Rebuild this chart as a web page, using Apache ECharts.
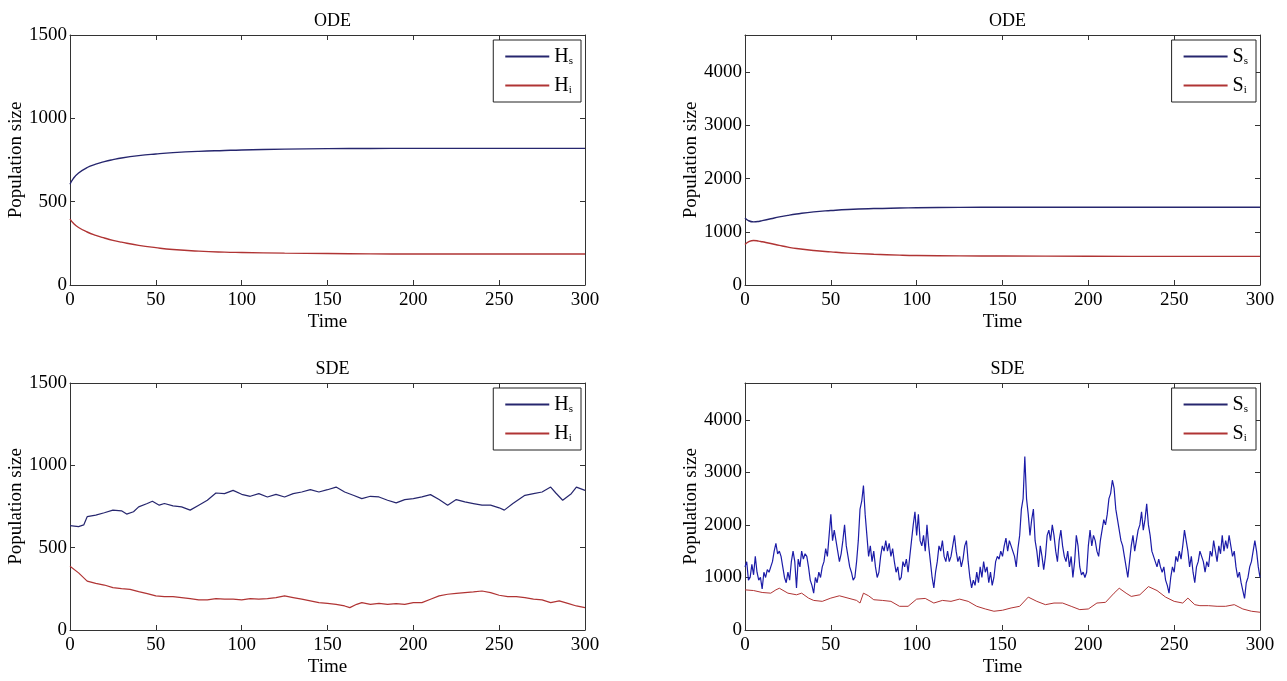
<!DOCTYPE html>
<html>
<head>
<meta charset="utf-8">
<script src="https://cdn.jsdelivr.net/npm/echarts@6/dist/echarts.min.js"></script>
<style>
html,body{margin:0;padding:0;background:#fff;}
#c{width:1287px;height:681px;}
</style>
</head>
<body>
<div id="c"></div>
<script>
// ---------- DATA ----------
const xTicks = [0, 50, 100, 150, 200, 250, 300];
const panelTitles = ['ODE', 'ODE', 'SDE', 'SDE'];

// ODE, host populations
const tOdeH = [0, 2, 5, 10, 15, 20, 25, 30, 40, 50, 60, 75, 90, 100, 125, 150, 175, 200, 250, 300];
const hsOde = [604, 640, 672, 705, 725, 740, 752, 762, 776, 786, 794, 802, 807, 810, 815, 818, 819, 820, 820, 820];
const hiOde = [396, 370, 345, 318, 298, 282, 268, 257, 238, 224, 213, 203, 197, 195, 191, 189, 187, 186, 186, 186];

// ODE, second population
const tOdeS = [0, 2, 5, 8, 10, 15, 20, 25, 30, 40, 50, 60, 75, 90, 100, 125, 150, 200, 250, 300];
const ssOde = [1262, 1210, 1187, 1195, 1210, 1245, 1280, 1310, 1335, 1375, 1400, 1420, 1437, 1447, 1452, 1460, 1462, 1463, 1463, 1463];
const siOde = [762, 810, 837, 825, 812, 780, 745, 712, 685, 648, 622, 600, 578, 562, 555, 548, 545, 540, 538, 538];

// SDE, host populations
const tSdeHs = [0, 5, 8, 10, 15, 20, 25, 30, 33, 37, 40, 45, 48, 52, 55, 60, 65, 70, 75, 80, 85, 90, 95, 100, 105, 110, 115, 120, 125, 130, 135, 140, 145, 150, 155, 160, 165, 170, 175, 180, 185, 190, 195, 200, 205, 210, 215, 220, 225, 230, 235, 240, 245, 250, 253, 258, 265, 270, 275, 280, 283, 287, 292, 295, 300];
const hsSde = [634, 628, 638, 688, 698, 712, 728, 724, 704, 718, 748, 768, 782, 758, 768, 754, 748, 728, 758, 788, 832, 828, 848, 824, 812, 828, 808, 824, 808, 828, 838, 852, 838, 852, 868, 838, 818, 798, 812, 808, 788, 772, 792, 798, 808, 822, 792, 758, 792, 778, 768, 758, 758, 742, 728, 768, 818, 828, 838, 868, 832, 788, 828, 868, 848];
const tSdeHi = [0, 5, 10, 15, 20, 25, 30, 35, 40, 45, 50, 55, 60, 65, 70, 75, 80, 85, 90, 95, 100, 105, 110, 115, 120, 125, 130, 135, 140, 145, 150, 155, 160, 163, 167, 170, 175, 180, 185, 190, 195, 200, 205, 210, 215, 220, 225, 230, 235, 240, 245, 250, 255, 260, 265, 270, 275, 280, 285, 290, 295, 300];
const hiSde = [387, 347, 297, 283, 273, 257, 251, 247, 233, 221, 207, 203, 203, 197, 191, 183, 183, 191, 187, 187, 183, 191, 187, 191, 197, 207, 197, 187, 177, 166, 162, 156, 146, 136, 156, 166, 156, 162, 156, 160, 156, 166, 166, 187, 207, 217, 223, 227, 231, 237, 227, 211, 203, 203, 197, 187, 183, 166, 177, 162, 146, 136];

// SDE, second population (one reading per time unit, t = 0..300)
const ssSde = [1200, 1300, 950, 1000, 1250, 1050, 1400, 1100, 950, 1000, 780, 1100, 1000, 1150, 1100, 1200, 1300, 1500, 1650, 1450,
  1500, 1400, 1200, 1000, 900, 1100, 950, 1300, 1500, 1300, 800, 1350, 1200, 1500, 1350, 1450, 1400, 1200, 950, 850,
  700, 1000, 900, 1100, 1000, 1200, 1300, 1550, 1400, 1800, 2200, 1700, 1900, 1700, 1500, 1300, 1450, 1700, 2000, 1600,
  1400, 1200, 1100, 950, 1000, 1300, 1700, 2300, 2450, 2750, 2200, 1800, 1400, 1600, 1300, 1500, 1200, 1000, 1100, 1400,
  1600, 1500, 1700, 1500, 1650, 1400, 1550, 1300, 1100, 1200, 950, 1000, 1300, 1200, 1350, 1100, 1400, 1700, 2000, 2250,
  1800, 2200, 1700, 1600, 1800, 1500, 2000, 1600, 1300, 1000, 800, 1100, 1300, 1600, 1500, 1700, 1400, 1300, 1500, 1300,
  1400, 1600, 1800, 1500, 1300, 1400, 1200, 1350, 1600, 1700, 1300, 1000, 800, 950, 850, 1100, 900, 1200, 1000, 1300,
  1100, 1200, 900, 1100, 850, 1000, 1300, 1400, 1350, 1500, 1400, 1600, 1750, 1500, 1700, 1600, 1500, 1400, 1200, 1550,
  1800, 2300, 2500, 3300, 2500, 2200, 1800, 2100, 2300, 1700, 1500, 1200, 1600, 1400, 1150, 1400, 1800, 1900, 1700, 2000,
  1800, 1500, 1300, 1700, 1900, 1600, 1400, 1300, 1500, 1200, 1400, 1000, 1300, 1800, 1600, 1200, 1050, 1100, 1000, 1100,
  1600, 1900, 1600, 1800, 1700, 1500, 1400, 1700, 1900, 2100, 2000, 2200, 2500, 2600, 2850, 2700, 2300, 2100, 1900, 1700,
  1600, 1400, 1200, 1000, 1300, 1600, 1800, 1500, 1700, 1900, 2000, 2250, 1900, 2100, 2400, 2000, 1800, 1500, 1400, 1300,
  1200, 1350, 1200, 1100, 1200, 950, 850, 700, 1000, 1200, 1100, 1400, 1300, 1500, 1350, 1600, 1900, 1700, 1500, 1200,
  1400, 1100, 900, 1200, 1300, 1500, 1400, 1300, 1100, 1300, 1200, 1500, 1400, 1700, 1500, 1300, 1600, 1450, 1800, 1500,
  1700, 1550, 1800, 1600, 1400, 1500, 1200, 1000, 1100, 900, 750, 600, 900, 1000, 1200, 1300, 1500, 1700, 1500, 1200, 1000];
const tSdeSi = [0, 5, 10, 15, 18, 20, 25, 30, 33, 37, 40, 45, 50, 55, 60, 65, 67, 69, 72, 75, 80, 85, 90, 95, 100, 105, 110, 115, 120, 125, 130, 135, 140, 145, 150, 155, 160, 165, 170, 175, 180, 185, 190, 195, 200, 205, 210, 215, 218, 222, 225, 230, 235, 240, 245, 250, 255, 258, 262, 265, 270, 275, 280, 285, 290, 295, 300];
const siSde = [764, 751, 714, 701, 764, 795, 701, 670, 701, 607, 563, 545, 607, 651, 607, 563, 513, 701, 651, 576, 563, 545, 451, 451, 588, 601, 513, 563, 545, 588, 545, 451, 400, 357, 376, 419, 451, 626, 545, 482, 513, 513, 451, 388, 400, 513, 526, 701, 795, 701, 639, 670, 826, 751, 626, 545, 513, 607, 482, 463, 463, 451, 451, 482, 400, 357, 338];

// ---------- CHART ----------
const FONT = 'Liberation Serif';
const NAVY = '#26266e';
const RED = '#b03434';
const BLUE = '#1c1ca8';

const grids = [
  {left: 70, top: 35, width: 515, height: 250},
  {left: 745, top: 35, width: 515, height: 250},
  {left: 70, top: 383, width: 515, height: 247},
  {left: 745, top: 383, width: 515, height: 247}
];
const yMax = [1500, 4700, 1500, 4700];
const yInt = [500, 1000, 500, 1000];

const pairs = (ts, vs) => ts.map((t, i) => [t, vs[i]]);
const tUnit = ssSde.map((_, i) => i);

const AXLINE = {onZero: false, lineStyle: {color: '#333', width: 1}};
const TICK = {inside: true, length: 5, lineStyle: {color: '#333'}};

const xAxes = [], yAxes = [];
grids.forEach((g, i) => {
  xAxes.push({
    gridIndex: i, type: 'value', min: 0, max: 300, interval: 50, position: 'bottom',
    name: 'Time', nameLocation: 'middle', nameGap: 28,
    nameTextStyle: {fontFamily: FONT, fontSize: 19, color: '#000'},
    axisLine: AXLINE, axisTick: TICK,
    axisLabel: {fontFamily: FONT, fontSize: 19, color: '#000', margin: 6},
    splitLine: {show: false}
  });
  xAxes.push({
    gridIndex: i, type: 'value', min: 0, max: 300, interval: 50, position: 'top',
    axisLine: AXLINE, axisTick: TICK,
    axisLabel: {show: false}, splitLine: {show: false}
  });
  yAxes.push({
    gridIndex: i, type: 'value', min: 0, max: yMax[i], interval: yInt[i], position: 'left',
    name: 'Population size', nameLocation: 'middle', nameGap: 42,
    nameTextStyle: {fontFamily: FONT, fontSize: 19, color: '#000'},
    axisLine: AXLINE, axisTick: TICK,
    axisLabel: {fontFamily: FONT, fontSize: 19, color: '#000', margin: 3,
      formatter: v => (v % yInt[i] === 0 ? String(v) : '')},
    splitLine: {show: false}
  });
  yAxes.push({
    gridIndex: i, type: 'value', min: 0, max: yMax[i], interval: yInt[i], position: 'right',
    axisLine: AXLINE, axisTick: TICK,
    axisLabel: {show: false}, splitLine: {show: false}
  });
});

function line(name, i, data, color, width, smooth) {
  return {
    name: name, type: 'line', xAxisIndex: i * 2, yAxisIndex: i * 2,
    data: data, showSymbol: false, symbol: 'none', smooth: !!smooth,
    lineStyle: {color: color, width: width}, itemStyle: {color: color},
    animation: false, silent: true
  };
}

const series = [
  line('Hs', 0, pairs(tOdeH, hsOde), NAVY, 1.4, true),
  line('Hi', 0, pairs(tOdeH, hiOde), RED, 1.4, true),
  line('Ss', 1, pairs(tOdeS, ssOde), NAVY, 1.4, true),
  line('Si', 1, pairs(tOdeS, siOde), RED, 1.4, true),
  line('Hs ', 2, pairs(tSdeHs, hsSde), NAVY, 1.2, false),
  line('Hi ', 2, pairs(tSdeHi, hiSde), RED, 1.2, false),
  line('Ss ', 3, pairs(tUnit, ssSde), BLUE, 1.2, false),
  line('Si ', 3, pairs(tSdeSi, siSde), RED, 1.0, false)
];

const legendNames = [['Hs', 'Hi'], ['Ss', 'Si'], ['Hs ', 'Hi '], ['Ss ', 'Si ']];
const legendColors = [[NAVY, RED], [NAVY, RED], [NAVY, RED], [NAVY, RED]];
const legends = grids.map((g, i) => ({
  data: legendNames[i].map((n, k) => ({name: n, icon: 'rect', itemStyle: {color: legendColors[i][k]}})),
  orient: 'vertical',
  right: 1287 - (g.left + g.width) + 4,
  top: g.top + 5,
  itemWidth: 44, itemHeight: 2, itemGap: 8,
  padding: [6, 8, 6, 12],
  borderColor: '#222', borderWidth: 1, backgroundColor: '#fff',
  selectedMode: false,
  formatter: n => '{b|' + n[0] + '}{s|' + n[1] + '}',
  textStyle: {
    rich: {
      b: {fontFamily: FONT, fontSize: 20, color: '#000', lineHeight: 22},
      s: {fontFamily: FONT, fontSize: 11, color: '#000', lineHeight: 22, padding: [10, 0, 0, 0]}
    }
  }
}));

const titles = grids.map((g, i) => ({
  text: panelTitles[i],
  left: g.left + g.width / 2, top: g.top - 28, textAlign: 'center',
  textStyle: {fontFamily: FONT, fontSize: 18, fontWeight: 'normal', color: '#000'}
}));

const chart = echarts.init(document.getElementById('c'), null, {renderer: 'canvas'});
chart.setOption({
  animation: false,
  backgroundColor: '#fff',
  title: titles,
  grid: grids,
  xAxis: xAxes,
  yAxis: yAxes,
  legend: legends,
  series: series
});
</script>
</body>
</html>
